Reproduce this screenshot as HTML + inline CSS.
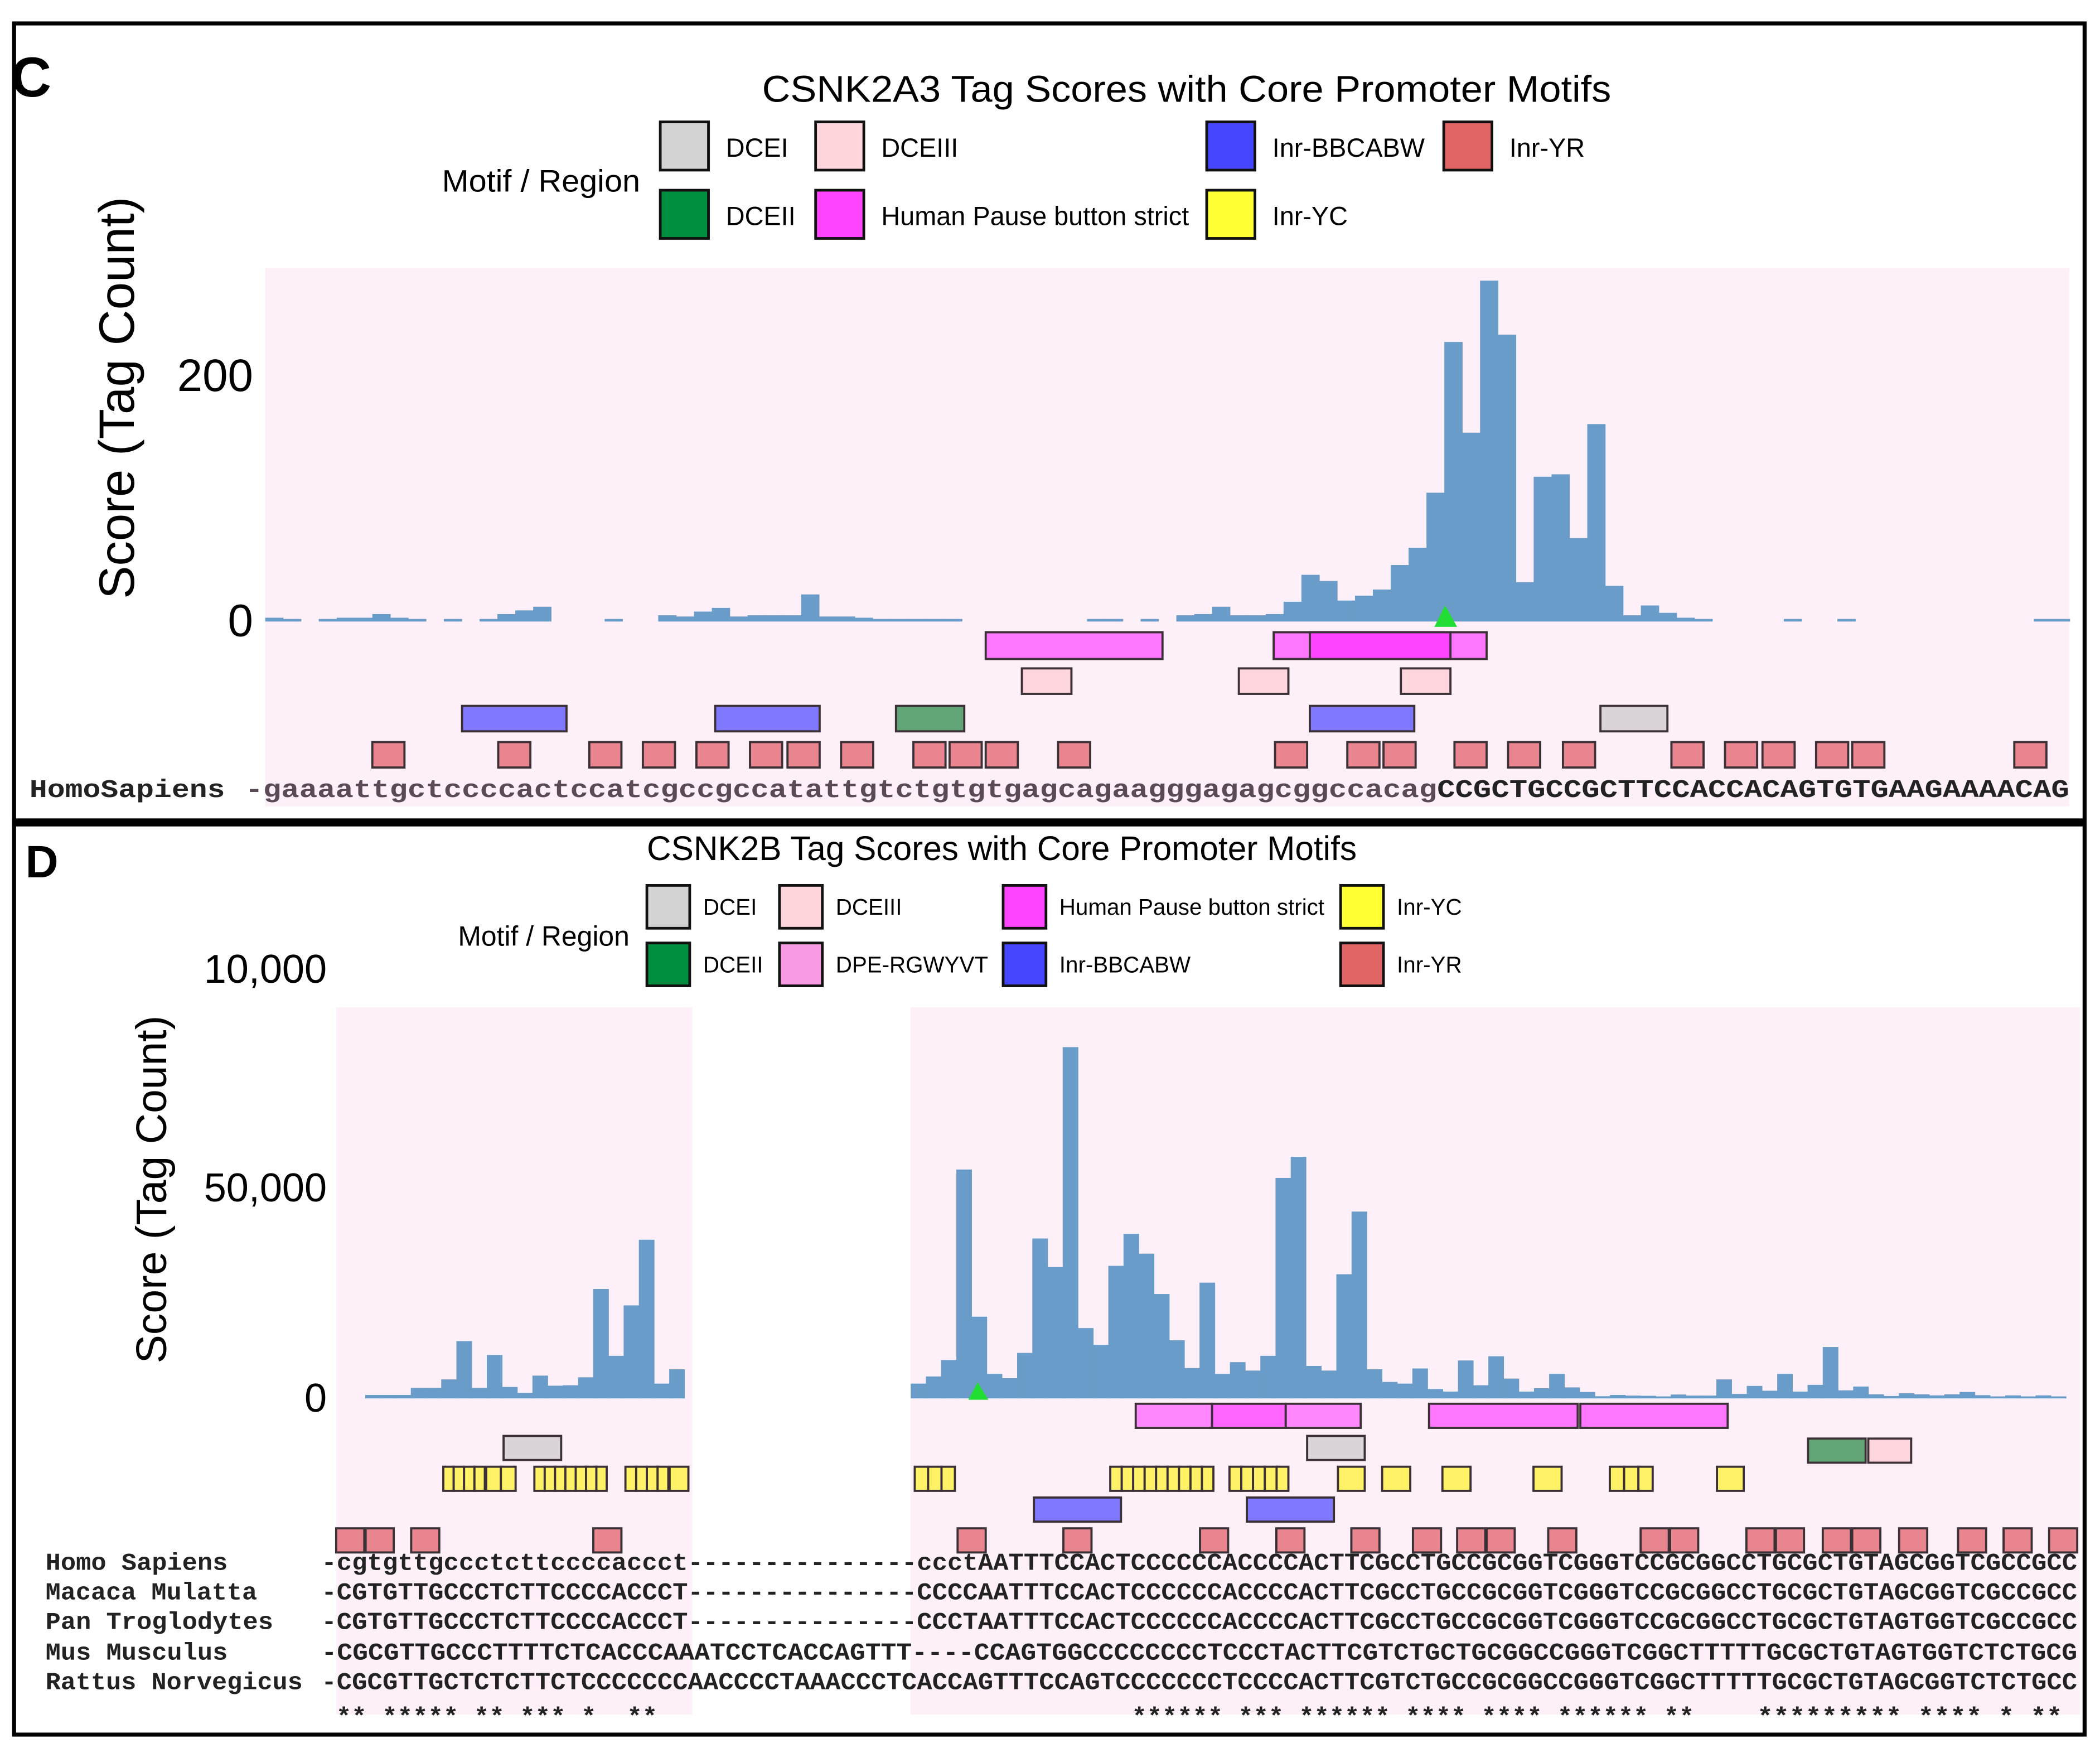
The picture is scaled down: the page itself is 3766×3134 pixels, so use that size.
<!DOCTYPE html>
<html><head><meta charset="utf-8"><style>
html,body{margin:0;padding:0;background:#fff}
svg{display:block}
text{font-family:"Liberation Sans",sans-serif}
.mono{font-family:"Liberation Mono",monospace;font-weight:bold;fill:#222}
</style></head><body>
<svg id="fig" width="3766" height="3134" viewBox="0 0 1568 1305" preserveAspectRatio="none" xmlns="http://www.w3.org/2000/svg">
<rect x="0" y="0" width="1568" height="1305" fill="#fff"/>
<rect x="10.5" y="17.5" width="1546" height="596" fill="none" stroke="#000" stroke-width="3"/>
<rect x="9" y="611" width="1549" height="6" fill="#000"/>
<rect x="10.5" y="615" width="1546" height="680" fill="none" stroke="#000" stroke-width="3"/>
<text x="8" y="72" font-size="42" font-weight="bold">C</text>
<text x="19" y="655" font-size="34" font-weight="bold">D</text>

<text x="886" y="76" font-size="28" text-anchor="middle" textLength="634" lengthAdjust="spacingAndGlyphs">CSNK2A3 Tag Scores with Core Promoter Motifs</text>
<text x="330" y="143" font-size="23" textLength="148" lengthAdjust="spacingAndGlyphs">Motif / Region</text>
<g id="legC"></g>
<rect x="198" y="200" width="1347" height="402" fill="#fdf0f8"/>
<text transform="translate(100,297) rotate(-90)" font-size="37" text-anchor="middle">Score (Tag Count)</text>
<g id="axC"></g>
<g id="barsC"></g>
<g id="motC"></g>
<polygon points="1079,452 1071,468 1088,468" fill="#22dd33"/>
<text class="mono" x="22" y="595" font-size="19" textLength="146" lengthAdjust="spacingAndGlyphs">HomoSapiens</text>
<text class="mono" x="183" y="595" font-size="19" textLength="1362" lengthAdjust="spacingAndGlyphs"><tspan fill="#5a4a55">-gaaaattgctccccactccatcgccgccatattgtctgtgtgagcagaagggagagcggccacag</tspan>CCGCTGCCGCTTCCACCACAGTGTGAAGAAAACAG</text>

<text x="748" y="642" font-size="25.5" text-anchor="middle" textLength="530" lengthAdjust="spacingAndGlyphs">CSNK2B Tag Scores with Core Promoter Motifs</text>
<text x="342" y="706" font-size="21" textLength="128" lengthAdjust="spacingAndGlyphs">Motif / Region</text>
<g id="legD"></g>
<rect x="251" y="752" width="266" height="528" fill="#fdf0f8"/>
<rect x="680" y="752" width="873" height="528" fill="#fdf0f8"/>
<text transform="translate(124,888) rotate(-90)" font-size="32" text-anchor="middle">Score (Tag Count)</text>
<g id="axD"></g>
<g id="barsD"></g>
<g id="motD"></g>
<polygon points="730,1032 723,1045 738,1045" fill="#22dd33"/>
<g id="seqD"></g>
</svg>
<script>
const cBinValues = [2,1,null,1,2,2,5,2,1,null,1,null,1,5,8,11,null,null,null,1,null,null,4,3,7,10,3,4,4,4,21,3,3,2,1,1,1,1,1,null,null,null,null,null,null,null,1,1,null,1,null,4,5,11,4,4,5,15,37,32,16,20,25,45,59,104,227,153,277,233,31,117,119,67,160,28,4,12,6,2,1,null,null,null,null,1,null,null,1,null,null,null,null,null,null,null,null,null,null,1,1];
const cTickValues = [0,200];
const cTickLabels = ["0","200"];
const dLeftValues = [500,500,500,2200,2200,4200,13300,2200,10000,2400,1000,5100,2700,2800,4700,25700,9800,21800,37400,3200,6600];
const dRightValues = [3200,4900,8800,54100,19100,5500,4500,10500,37700,30900,83200,16400,12400,31200,38800,34100,24500,13500,6900,27200,5500,8300,6300,9800,52100,57100,7400,6300,29200,44100,6600,3600,3200,6800,1900,1300,8700,2800,9700,4400,1300,2100,5500,2300,1200,200,500,350,300,100,600,350,350,4200,750,2650,1500,5500,1300,2900,11900,1600,2500,650,250,900,650,400,650,1200,450,100,400,100,400,100];
const dTickValues = [0,50000,102000];
const dTickLabels = ["0","50,000","10,000"];
const legendCNames = ["DCEI","DCEIII","Inr-BBCABW","Inr-YR","DCEII","Human Pause button strict","Inr-YC"];
const legendDNames = ["DCEI","DCEII","DCEIII","DPE-RGWYVT","Human Pause button strict","Inr-BBCABW","Inr-YC","Inr-YR"];
const speciesNames = ["Homo Sapiens","Macaca Mulatta","Pan Troglodytes","Mus Musculus","Rattus Norvegicus"];
const speciesSeqs = [
"-cgtgttgccctcttccccaccct---------------ccctAATTTCCACTCCCCCCACCCCACTTCGCCTGCCGCGGTCGGGTCCGCGGCCTGCGCTGTAGCGGTCGCCGCC",
"-CGTGTTGCCCTCTTCCCCACCCT---------------CCCCAATTTCCACTCCCCCCACCCCACTTCGCCTGCCGCGGTCGGGTCCGCGGCCTGCGCTGTAGCGGTCGCCGCC",
"-CGTGTTGCCCTCTTCCCCACCCT---------------CCCTAATTTCCACTCCCCCCACCCCACTTCGCCTGCCGCGGTCGGGTCCGCGGCCTGCGCTGTAGTGGTCGCCGCC",
"-CGCGTTGCCCTTTTCTCACCCAAATCCTCACCAGTTT----CCAGTGGCCCCCCCCTCCCTACTTCGTCTGCTGCGGCCGGGTCGGCTTTTTGCGCTGTAGTGGTCTCTGCG",
"-CGCGTTGCTCTCTTCTCCCCCCCAACCCCTAAACCCTCACCAGTTTCCAGTCCCCCCCTCCCCACTTCGTCTGCCGCGGCCGGGTCGGCTTTTTGCGCTGTAGCGGTCTCTGCC"];
const speciesLabelWidths = [136,158,170,136,192];

const NS="http://www.w3.org/2000/svg";
function mk(tag,attrs,parent){const e=document.createElementNS(NS,tag);for(const k in attrs)e.setAttribute(k,attrs[k]);parent.appendChild(e);return e;}
const COL={"DCEI":"#d3d3d3","DCEII":"#008f3e","DCEIII":"#ffd6dc","DPE-RGWYVT":"#f99be3","Human Pause button strict":"#ff44ff","Inr-BBCABW":"#4646ff","Inr-YC":"#ffff33","Inr-YR":"#e06464"};

const yC=v=>463-v*183/200;
const xC=i=>198+i*13.34;
const yD=v=>1043-v*157/50000;
const xDL=i=>272.7+i*11.35;
const xDR=i=>680+i*11.35;

const legCPos=[[493,91],[609,91],[901,91],[1078,91],[493,142],[609,142],[901,142]];
const gLC=document.getElementById('legC');
legendCNames.forEach((n,i)=>{const [x,y]=legCPos[i];
 const r=mk('rect',{x:x,y:y,width:36,height:36,fill:COL[n],stroke:'#111','stroke-width':2},gLC);
 
 
 const t=mk('text',{x:x+49,y:y+26,'font-size':19.5},gLC);t.textContent=n;
 
 
});
const legDPos=[[483,661],[483,704],[582,661],[582,704],[749,661],[749,704],[1001,661],[1001,704]];
const gLD=document.getElementById('legD');
legendDNames.forEach((n,i)=>{const [x,y]=legDPos[i];
 const r=mk('rect',{x:x,y:y,width:32,height:32,fill:COL[n],stroke:'#111','stroke-width':2},gLD);
 
 
 const t=mk('text',{x:x+42,y:y+22,'font-size':16.8},gLD);t.textContent=n;
 
 
});

const gAC=document.getElementById('axC');
cTickValues.forEach((v,i)=>{const t=mk('text',{x:189,y:yC(v)+12,'font-size':34,'text-anchor':'end'},gAC);t.textContent=cTickLabels[i];
 
 });
const gAD=document.getElementById('axD');
dTickValues.forEach((v,i)=>{const t=mk('text',{x:244,y:yD(v)+11,'font-size':30,'text-anchor':'end'},gAD);t.textContent=dTickLabels[i];
 
 });

function bars(g,vals,xf,yf,w,base){vals.forEach((v,i)=>{if(v===null)return;
 const y=Math.min(yf(v),base-1.5);
 const r=mk('rect',{x:xf(i),y:y,width:w+0.3,height:base-y,fill:'#6a9cc9'},g);
 
 });}
bars(document.getElementById('barsC'),cBinValues,xC,yC,13.34,yC(0)+1);
bars(document.getElementById('barsD'),dLeftValues,xDL,yD,11.35,yD(0)+1);
bars(document.getElementById('barsD'),dRightValues,xDR,yD,11.35,yD(0)+1);

function box(g,x1,x2,y1,y2,fill,name){const r=mk('rect',{x:x1,y:y1,width:x2-x1,height:y2-y1,fill:fill,stroke:'#3a3035','stroke-width':1.6},g);
 
 }
const gMC=document.getElementById('motC');
[[736,868,'#ff77ff'],[951,1110,'#ff77ff'],[978,1083,'#ff44ff']].forEach(b=>box(gMC,b[0],b[1],472,492,b[2],'motif-pause-button'));
[[763,800],[925,962],[1046,1083]].forEach(b=>box(gMC,b[0],b[1],499,518,'#ffd6de','motif-dceiii'));
[[345,423],[534,612],[978,1056]].forEach(b=>box(gMC,b[0],b[1],527,546,'#8078ff','motif-inr-bbcabw'));
box(gMC,669,720,527,546,'#62a677','motif-dceii');
box(gMC,1195,1245,527,546,'#dbd3da','motif-dcei');
[290,384,452,492,532,572,600,640,694,721,748,802,964,1018,1045,1098,1138,1179,1260,1300,1328,1368,1395,1516].forEach(c=>box(gMC,c-12,c+12,554,573,'#e9858e','motif-inr-yr'));

const gMD=document.getElementById('motD');
[[848,905,'#ff88ff'],[905,960,'#ff66ff'],[960,1016,'#ff88ff'],[1067,1178,'#ff77ff'],[1180,1290,'#ff77ff']].forEach(b=>box(gMD,b[0],b[1],1048,1066,b[2],'motif-pause-button'));
[[376,419],[976,1019]].forEach(b=>box(gMD,b[0],b[1],1072,1090,'#dbd3da','motif-dcei'));
box(gMD,1350,1393,1074,1092,'#62a677','motif-dceii');
box(gMD,1395,1427,1074,1092,'#ffd6de','motif-dceiii');
[[331,362,4],[363,385,2],[399,453,7],[467,499,4],[500,514,1],[683,713,3],[829,906,9],[918,962,5],[999,1019,1],[1032,1053,1],[1077,1098,1],[1145,1166,1],[1202,1234,3],[1282,1302,1]].forEach(b=>{
 const w=(b[1]-b[0])/b[2];for(let k=0;k<b[2];k++)box(gMD,b[0]+k*w,b[0]+(k+1)*w,1095,1113,'#fff266','motif-inr-yc');});
[[772,837],[931,996]].forEach(b=>box(gMD,b[0],b[1],1118,1136,'#8078ff','motif-inr-bbcabw'));
[251,273,307,443,715,794,896,953,1009,1055,1088,1110,1156,1225,1247,1304,1326,1361,1383,1418,1462,1496,1530].forEach(x=>box(gMD,x,x+21,1141,1159,'#e9858e','motif-inr-yr'));

const gS=document.getElementById('seqD');
const rowY=[1172,1194,1216,1239,1261];
speciesNames.forEach((n,i)=>{
 const t=mk('text',{class:'mono',x:34,y:rowY[i],'font-size':18,textLength:speciesLabelWidths[i],lengthAdjust:'spacingAndGlyphs'},gS);t.textContent=n;
 
 
 const s=mk('text',{class:'mono',x:240,y:rowY[i],'font-size':18,textLength:1311,lengthAdjust:'spacingAndGlyphs'},gS);s.textContent=speciesSeqs[i];
 
 
});
[["** ***** ** *** *  **",251,240],["****** *** ****** **** **** ****** **",845,420],["********* **** * **",1312,228]].forEach(a=>{
 const t=mk('text',{class:'mono',x:a[1],y:1287,'font-size':18,textLength:a[2],lengthAdjust:'spacingAndGlyphs'},gS);
 t.setAttribute('xml:space','preserve');t.style.whiteSpace='pre';t.textContent=a[0];
 
 
});
</script>
</body></html>
